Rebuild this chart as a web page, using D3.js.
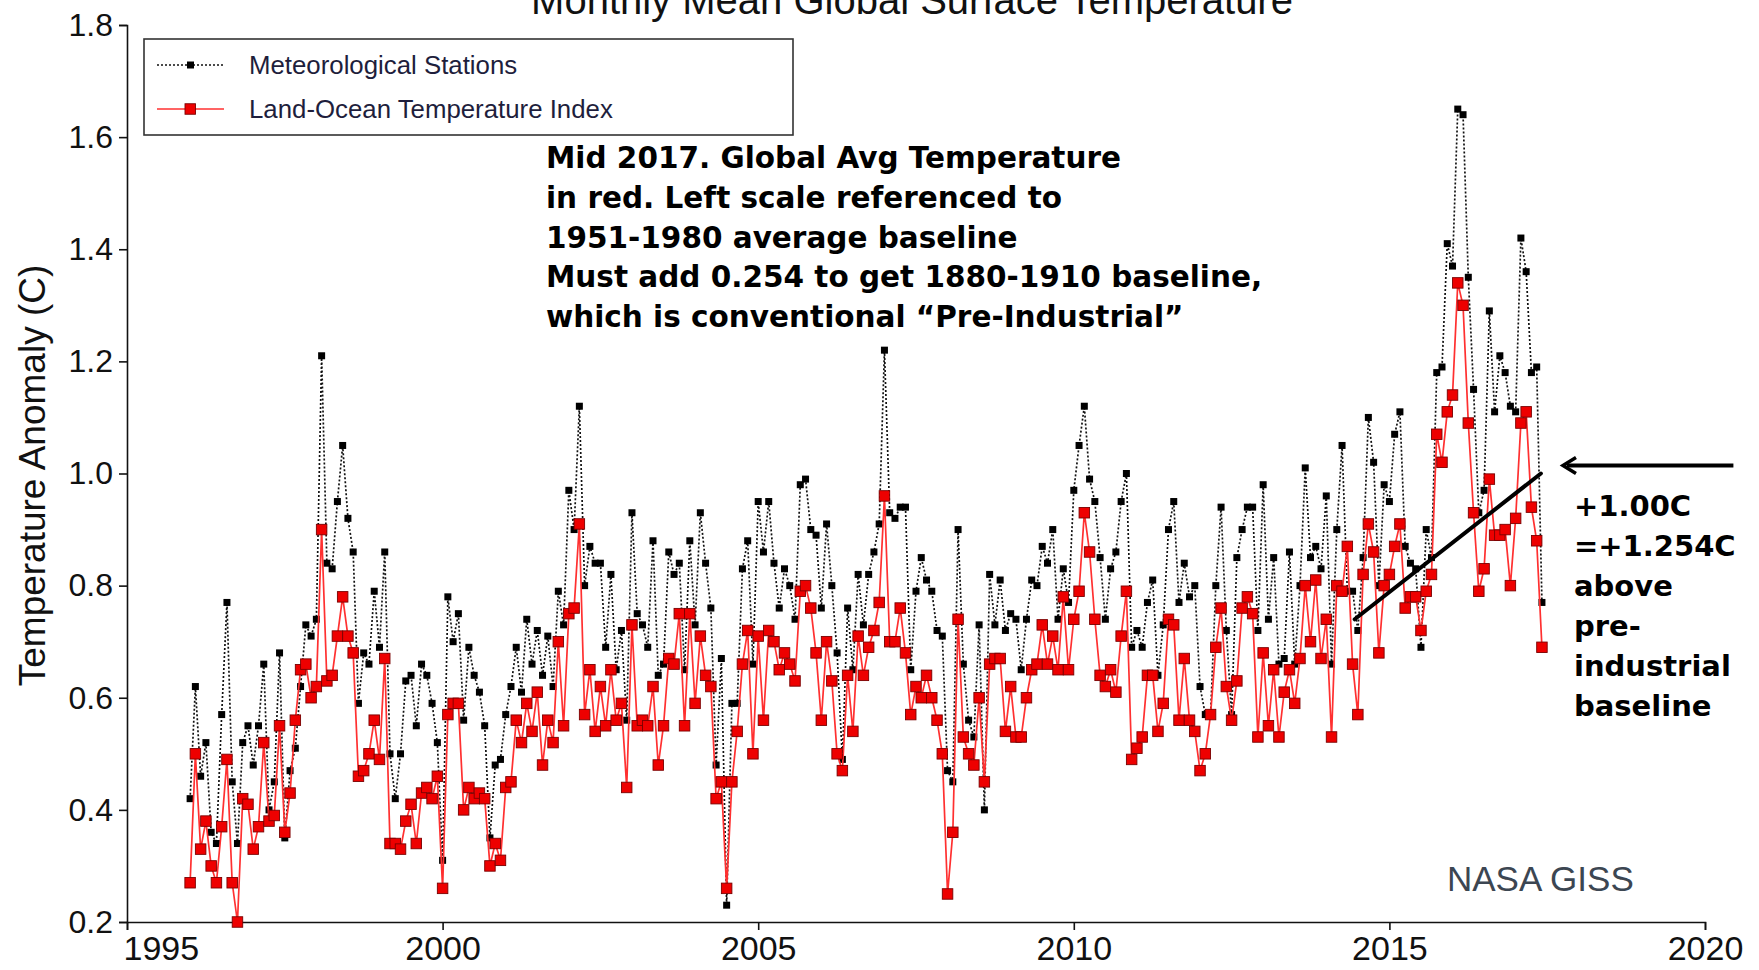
<!DOCTYPE html>
<html>
<head>
<meta charset="utf-8">
<script src="https://cdn.jsdelivr.net/npm/d3@7"></script>
<style>
  html, body { margin: 0; padding: 0; background: #ffffff; }
  svg { display: block; }
</style>
</head>
<body>
<svg id="chart" width="1759" height="970"></svg>
<script>
// Monthly anomalies (deg C, 1951-1980 baseline), January 1996 onward
const startYear = 1996;

// Land-Ocean Temperature Index
const landOcean = [
  0.27, 0.50, 0.33, 0.38, 0.30, 0.27, 0.37, 0.49, 0.27, 0.20, 0.42, 0.41, // 1996
  0.33, 0.37, 0.52, 0.38, 0.39, 0.55, 0.36, 0.43, 0.56, 0.65, 0.66, 0.60, // 1997
  0.62, 0.90, 0.63, 0.64, 0.71, 0.78, 0.71, 0.68, 0.46, 0.47, 0.50, 0.56, // 1998
  0.49, 0.67, 0.34, 0.34, 0.33, 0.38, 0.41, 0.34, 0.43, 0.44, 0.42, 0.46, // 1999
  0.26, 0.57, 0.59, 0.59, 0.40, 0.44, 0.42, 0.43, 0.42, 0.30, 0.34, 0.31, // 2000
  0.44, 0.45, 0.56, 0.52, 0.59, 0.54, 0.61, 0.48, 0.56, 0.52, 0.70, 0.55, // 2001
  0.75, 0.76, 0.91, 0.57, 0.65, 0.54, 0.62, 0.55, 0.65, 0.56, 0.59, 0.44, // 2002
  0.73, 0.55, 0.56, 0.55, 0.62, 0.48, 0.55, 0.67, 0.66, 0.75, 0.55, 0.75, // 2003
  0.59, 0.71, 0.64, 0.62, 0.42, 0.45, 0.26, 0.45, 0.54, 0.66, 0.72, 0.50, // 2004
  0.71, 0.56, 0.72, 0.70, 0.65, 0.68, 0.66, 0.63, 0.79, 0.80, 0.76, 0.68, // 2005
  0.56, 0.70, 0.63, 0.50, 0.47, 0.64, 0.54, 0.71, 0.64, 0.69, 0.72, 0.77, // 2006
  0.96, 0.70, 0.70, 0.76, 0.68, 0.57, 0.62, 0.60, 0.64, 0.60, 0.56, 0.50, // 2007
  0.25, 0.36, 0.74, 0.53, 0.50, 0.48, 0.60, 0.45, 0.66, 0.67, 0.67, 0.54, // 2008
  0.62, 0.53, 0.53, 0.60, 0.65, 0.66, 0.73, 0.66, 0.71, 0.65, 0.78, 0.65, // 2009
  0.74, 0.79, 0.93, 0.86, 0.74, 0.64, 0.62, 0.65, 0.61, 0.71, 0.79, 0.49, // 2010
  0.51, 0.53, 0.64, 0.64, 0.54, 0.59, 0.74, 0.73, 0.56, 0.67, 0.56, 0.54, // 2011
  0.47, 0.50, 0.57, 0.69, 0.76, 0.62, 0.56, 0.63, 0.76, 0.78, 0.75, 0.53, // 2012
  0.68, 0.55, 0.65, 0.53, 0.61, 0.65, 0.59, 0.67, 0.80, 0.70, 0.81, 0.67, // 2013
  0.74, 0.53, 0.80, 0.79, 0.87, 0.66, 0.57, 0.82, 0.91, 0.86, 0.68, 0.80, // 2014
  0.82, 0.87, 0.91, 0.76, 0.78, 0.78, 0.72, 0.79, 0.82, 1.07, 1.02, 1.11, // 2015
  1.14, 1.34, 1.30, 1.09, 0.93, 0.79, 0.83, 0.99, 0.89, 0.89, 0.90, 0.80, // 2016
  0.92, 1.09, 1.11, 0.94, 0.88, 0.69                                      // 2017
];

// Meteorological Stations
const stations = [
  0.42, 0.62, 0.46, 0.52, 0.36, 0.34, 0.57, 0.77, 0.45, 0.34, 0.52, 0.55, // 1996
  0.48, 0.55, 0.66, 0.40, 0.45, 0.68, 0.35, 0.47, 0.51, 0.62, 0.73, 0.71, // 1997
  0.74, 1.21, 0.84, 0.83, 0.95, 1.05, 0.92, 0.86, 0.59, 0.68, 0.66, 0.79, // 1998
  0.69, 0.86, 0.50, 0.42, 0.50, 0.63, 0.64, 0.55, 0.66, 0.64, 0.59, 0.52, // 1999
  0.31, 0.78, 0.70, 0.75, 0.56, 0.69, 0.64, 0.61, 0.55, 0.35, 0.48, 0.49, // 2000
  0.57, 0.62, 0.69, 0.61, 0.74, 0.66, 0.72, 0.64, 0.71, 0.62, 0.79, 0.73, // 2001
  0.97, 0.90, 1.12, 0.80, 0.87, 0.84, 0.84, 0.69, 0.82, 0.65, 0.72, 0.56, // 2002
  0.93, 0.75, 0.73, 0.69, 0.88, 0.64, 0.66, 0.86, 0.82, 0.84, 0.65, 0.88, // 2003
  0.73, 0.93, 0.84, 0.76, 0.48, 0.67, 0.23, 0.59, 0.59, 0.83, 0.88, 0.66, // 2004
  0.95, 0.86, 0.95, 0.84, 0.76, 0.83, 0.80, 0.74, 0.98, 0.99, 0.90, 0.89, // 2005
  0.76, 0.91, 0.80, 0.68, 0.49, 0.76, 0.65, 0.82, 0.73, 0.82, 0.86, 0.91, // 2006
  1.22, 0.93, 0.92, 0.94, 0.94, 0.65, 0.79, 0.85, 0.81, 0.79, 0.72, 0.71, // 2007
  0.47, 0.45, 0.90, 0.66, 0.56, 0.53, 0.73, 0.40, 0.82, 0.73, 0.81, 0.72, // 2008
  0.75, 0.74, 0.65, 0.74, 0.81, 0.80, 0.87, 0.84, 0.90, 0.74, 0.83, 0.77, // 2009
  0.97, 1.05, 1.12, 0.99, 0.95, 0.85, 0.74, 0.83, 0.86, 0.95, 1.00, 0.69, // 2010
  0.72, 0.69, 0.77, 0.81, 0.64, 0.73, 0.90, 0.95, 0.77, 0.84, 0.78, 0.80, // 2011
  0.62, 0.57, 0.57, 0.80, 0.94, 0.72, 0.57, 0.85, 0.90, 0.94, 0.94, 0.72, // 2012
  0.98, 0.74, 0.85, 0.66, 0.67, 0.86, 0.66, 0.80, 1.01, 0.85, 0.87, 0.83, // 2013
  0.96, 0.66, 0.90, 1.05, 0.79, 0.79, 0.72, 0.85, 1.10, 1.02, 0.80, 0.98, // 2014
  0.95, 1.07, 1.11, 0.87, 0.84, 0.83, 0.69, 0.90, 0.85, 1.18, 1.19, 1.41, // 2015
  1.37, 1.65, 1.64, 1.35, 1.15, 0.93, 0.97, 1.29, 1.11, 1.21, 1.18, 1.12, // 2016
  1.11, 1.42, 1.36, 1.18, 1.19, 0.77                                      // 2017
];

const yTicks = [0.2, 0.4, 0.6, 0.8, 1.0, 1.2, 1.4, 1.6, 1.8];
const xTicks = [1995, 2000, 2005, 2010, 2015, 2020];

const titleText = "Monthly Mean Global Surface Temperature";
const yLabel = "Temperature Anomaly (C)";
const seriesNames = ["Meteorological Stations", "Land-Ocean Temperature Index"];

const noteLines = [
  "Mid 2017. Global Avg Temperature",
  "in red. Left scale referenced to",
  "1951-1980 average baseline",
  "Must add 0.254 to get 1880-1910 baseline,",
  "which is conventional \u201CPre-Industrial\u201D"
];
const sideNoteLines = ["+1.00C", "=+1.254C", "above", "pre-", "industrial", "baseline"];

// Hand-drawn trend stroke (year, anomaly) ending at the +1.00C level
const trendStroke = [[2014.45, 0.74], [2017.40, 1.00]];
// Pointer arrow at the +1.00C level (years)
const pointerSpan = [2017.75, 2020.45];
const pointerLevel = 1.00;

const sourceLabel = "NASA GISS";

// ---------------------------------------------------------------
const svg = d3.select("#chart");
const W = 1759, H = 970;
const plot = { left: 127, right: 1705, top: 25, bottom: 922 };

const x = d3.scaleLinear().domain([1995, 2020]).range([plot.left, plot.right]);
const y = d3.scaleLinear().domain([0.2, 1.8]).range([plot.bottom, plot.top]);

const monthTime = i => startYear + i / 12;
const stationPts = stations.map((v, i) => ({ t: monthTime(i), v }));
const lotiPts = landOcean.map((v, i) => ({ t: monthTime(i), v }));

svg.append("rect").attr("width", W).attr("height", H).attr("fill", "#ffffff");

const sans = "Liberation Sans, Arial, sans-serif";

// Title, running off the top edge of the page
svg.append("text")
  .attr("x", 912).attr("y", 14)
  .attr("text-anchor", "middle")
  .attr("font-family", sans)
  .attr("font-size", 40)
  .attr("fill", "#111")
  .text(titleText);

// Axes
const yAxis = svg.append("g")
  .attr("transform", `translate(${plot.left},0)`)
  .call(d3.axisLeft(y).tickValues(yTicks).tickFormat(d3.format(".1f")).tickSize(8).tickPadding(6));
const xAxis = svg.append("g")
  .attr("transform", `translate(0,${plot.bottom})`)
  .call(d3.axisBottom(x).tickValues(xTicks).tickFormat(d3.format("d")).tickSize(8).tickPadding(6));

[yAxis, xAxis].forEach(g => {
  g.select(".domain").attr("stroke", "#111").attr("stroke-width", 1.6);
  g.selectAll(".tick line").attr("stroke", "#111").attr("stroke-width", 1.6);
  g.selectAll(".tick text").attr("font-family", sans).attr("fill", "#111");
});
yAxis.selectAll(".tick text").attr("font-size", 32);
xAxis.selectAll(".tick text").attr("font-size", 34);
// first year label sits to the right of its tick, clear of the 0.2 label
xAxis.selectAll(".tick text")
  .filter(d => d === xTicks[0])
  .attr("text-anchor", "start")
  .attr("dx", -4);

// Y axis title
svg.append("text")
  .attr("transform", `translate(45,${(plot.top + plot.bottom) / 2 + 2}) rotate(-90)`)
  .attr("text-anchor", "middle")
  .attr("font-family", sans)
  .attr("font-size", 37)
  .attr("fill", "#111")
  .text(yLabel);

// Series
const line = d3.line().x(d => x(d.t)).y(d => y(d.v));

const gStations = svg.append("g");
gStations.append("path")
  .datum(stationPts)
  .attr("d", line)
  .attr("fill", "none")
  .attr("stroke", "#111")
  .attr("stroke-width", 1.7)
  .attr("stroke-dasharray", "2,2");
gStations.selectAll("rect")
  .data(stationPts)
  .join("rect")
  .attr("x", d => x(d.t) - 3.5)
  .attr("y", d => y(d.v) - 3.5)
  .attr("width", 7).attr("height", 7)
  .attr("fill", "#000");

const gLoti = svg.append("g");
gLoti.append("path")
  .datum(lotiPts)
  .attr("d", line)
  .attr("fill", "none")
  .attr("stroke", "#ff3030")
  .attr("stroke-width", 1.7);
gLoti.selectAll("rect")
  .data(lotiPts)
  .join("rect")
  .attr("x", d => x(d.t) - 5.25)
  .attr("y", d => y(d.v) - 5.25)
  .attr("width", 10.5).attr("height", 10.5)
  .attr("fill", "#ee0000")
  .attr("stroke", "#7a0000")
  .attr("stroke-width", 0.9);

// Legend
const legend = svg.append("g").attr("transform", "translate(144,39)");
legend.append("rect")
  .attr("width", 649).attr("height", 96)
  .attr("fill", "#ffffff")
  .attr("stroke", "#333")
  .attr("stroke-width", 1.6);
const legendRows = [
  { name: seriesNames[0], kind: "stations", cy: 26 },
  { name: seriesNames[1], kind: "loti", cy: 70 }
];
legendRows.forEach(r => {
  const g = legend.append("g").attr("transform", `translate(0,${r.cy})`);
  if (r.kind === "stations") {
    g.append("line").attr("x1", 13).attr("x2", 80)
      .attr("stroke", "#111").attr("stroke-width", 1.7).attr("stroke-dasharray", "2,2");
    g.append("rect").attr("x", 43).attr("y", -3.5).attr("width", 7).attr("height", 7).attr("fill", "#000");
  } else {
    g.append("line").attr("x1", 13).attr("x2", 80)
      .attr("stroke", "#ff3030").attr("stroke-width", 1.7);
    g.append("rect").attr("x", 41).attr("y", -5.25).attr("width", 10.5).attr("height", 10.5)
      .attr("fill", "#ee0000").attr("stroke", "#7a0000").attr("stroke-width", 0.9);
  }
  g.append("text")
    .attr("x", 105).attr("y", 9)
    .attr("font-family", sans)
    .attr("font-size", 25.8)
    .attr("fill", "#1e1e3c")
    .text(r.name);
});

// Explanatory note
const note = svg.append("text")
  .attr("font-family", "DejaVu Sans, Verdana, sans-serif")
  .attr("font-weight", "bold")
  .attr("font-size", 29.5)
  .attr("fill", "#000");
noteLines.forEach((s, i) => {
  note.append("tspan").attr("x", 546).attr("y", 168 + i * 39.8).text(s);
});

// Trend stroke and pointer arrow
svg.append("line")
  .attr("x1", x(trendStroke[0][0])).attr("y1", y(trendStroke[0][1]))
  .attr("x2", x(trendStroke[1][0])).attr("y2", y(trendStroke[1][1]))
  .attr("stroke", "#000").attr("stroke-width", 4).attr("stroke-linecap", "round");

const py = y(pointerLevel) - 8;
svg.append("line")
  .attr("x1", x(pointerSpan[0]) + 4).attr("y1", py)
  .attr("x2", x(pointerSpan[1])).attr("y2", py)
  .attr("stroke", "#000").attr("stroke-width", 4);
svg.append("path")
  .attr("d", `M${x(pointerSpan[0]) + 13},${py - 8} L${x(pointerSpan[0])},${py} L${x(pointerSpan[0]) + 13},${py + 8}`)
  .attr("fill", "none").attr("stroke", "#000").attr("stroke-width", 3.5);

// Side note
const side = svg.append("text")
  .attr("font-family", "Comic Sans MS, DejaVu Sans, sans-serif")
  .attr("font-weight", "bold")
  .attr("font-size", 29)
  .attr("fill", "#000");
sideNoteLines.forEach((s, i) => {
  side.append("tspan").attr("x", 1574).attr("y", 516 + i * 40).text(s);
});

// Source
svg.append("text")
  .attr("x", 1447).attr("y", 891)
  .attr("font-family", sans)
  .attr("font-size", 35)
  .attr("fill", "#3c4652")
  .text(sourceLabel);
</script>
</body>
</html>
